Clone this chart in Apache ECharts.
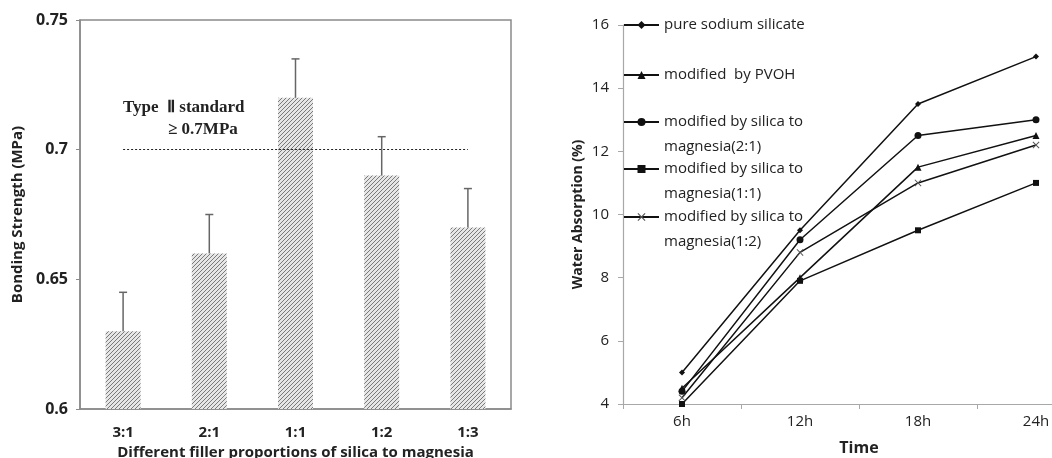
<!DOCTYPE html>
<html>
<head>
<meta charset="utf-8">
<script src="https://cdn.jsdelivr.net/npm/echarts@6/dist/echarts.min.js"></script>
<style>
  html, body { margin: 0; padding: 0; background: #fff; }
  #chart { width: 1052px; height: 458px; }
</style>
</head>
<body>
<div id="chart"></div>
<script>
// 왼쪽: 접착 강도 막대 그래프 데이터
var ratios = ['3:1', '2:1', '1:1', '1:2', '1:3'];
var strength = [0.63, 0.66, 0.72, 0.69, 0.67];
var strengthErr = [0.015, 0.015, 0.015, 0.015, 0.015];
var strengthTicks = [0.6, 0.65, 0.7, 0.75];
var standardValue = 0.7;

// 오른쪽: 흡수율 꺾은선 그래프 데이터
var times = ['6h', '12h', '18h', '24h'];
var pureSilicate = [5.0, 9.5, 13.5, 15.0];
var pvoh = [4.5, 8.0, 11.5, 12.5];
var silica21 = [4.4, 9.2, 12.5, 13.0];
var silica11 = [4.0, 7.9, 9.5, 11.0];
var silica12 = [4.2, 8.8, 11.0, 12.2];
var seriesNames = [
  'pure sodium silicate',
  'modified  by PVOH',
  'modified by silica to magnesia(2:1)',
  'modified by silica to magnesia(1:1)',
  'modified by silica to magnesia(1:2)'
];
var legendLabels = [
  'pure sodium silicate',
  'modified  by PVOH',
  '\nmodified by silica to\nmagnesia(2:1)',
  '\nmodified by silica to\nmagnesia(1:1)',
  '\nmodified by silica to\nmagnesia(1:2)'
];

// 빗금 패턴 만들기
var hatch = document.createElement('canvas');
hatch.width = 4;
hatch.height = 4;
var ctx = hatch.getContext('2d');
ctx.fillStyle = '#e6e6e6';
ctx.fillRect(0, 0, 4, 4);
ctx.strokeStyle = '#7a7a7a';
ctx.lineWidth = 1;
ctx.beginPath();
ctx.moveTo(0, 4); ctx.lineTo(4, 0);
ctx.moveTo(-1, 1); ctx.lineTo(1, -1);
ctx.moveTo(3, 5); ctx.lineTo(5, 3);
ctx.stroke();

var chart = echarts.init(document.getElementById('chart'));

var sansBold = { fontFamily: 'Open Sans', fontWeight: 'bold', color: '#222' };

var errData = strength.map(function (v, i) {
  return [i, v, +(v + strengthErr[i]).toFixed(3)];
});

var symbols = [
  'diamond',
  'triangle',
  'circle',
  'rect',
  'path://M0,1L1,0L5,4L9,0L10,1L6,5L10,9L9,10L5,6L1,10L0,9L4,5Z'
];
var symbolSizes = [6, 7, 7, 6, 7];
var lineData = [pureSilicate, pvoh, silica21, silica11, silica12];
var legendIconY = [25, 75, 122, 169, 217];

var lineSeries = lineData.map(function (d, i) {
  return {
    name: seriesNames[i],
    type: 'line',
    xAxisIndex: 1,
    yAxisIndex: 1,
    data: d,
    symbol: symbols[i],
    symbolSize: symbolSizes[i],
    showAllSymbol: true,
    lineStyle: { color: '#111', width: 1.5 },
    itemStyle: { color: i === 4 ? '#555' : '#111' },
    emphasis: { disabled: true }
  };
});

var legends = seriesNames.map(function (n, i) {
  var lines = legendLabels[i].split('\n').length;
  return {
    data: [n],
    left: 623,
    top: legendIconY[i] - lines * 25 / 2,
    padding: 0,
    itemWidth: 35,
    itemHeight: 10,
    itemGap: 0,
    formatter: function () { return legendLabels[i]; },
    textStyle: { fontFamily: 'Open Sans', fontSize: 15, color: '#222', lineHeight: 25 },
    selectedMode: false
  };
});

var option = {
  animation: false,
  legend: legends,
  grid: [
    { left: 80, top: 20, width: 431, height: 389, show: true, borderColor: '#8a8a8a', borderWidth: 1.5, outerBoundsMode: 'none' },
    { left: 623, top: 25, width: 472, height: 379, outerBoundsMode: 'none' }
  ],
  xAxis: [
    {
      type: 'category',
      gridIndex: 0,
      data: ratios,
      axisLine: { lineStyle: { color: '#8a8a8a', width: 1.5 } },
      axisTick: { show: false },
      axisLabel: Object.assign({ fontSize: 15, margin: 16 }, sansBold),
      name: 'Different filler proportions of silica to magnesia',
      nameLocation: 'middle',
      nameGap: 33,
      nameTextStyle: Object.assign({ fontSize: 15 }, sansBold)
    },
    {
      type: 'category',
      gridIndex: 1,
      data: times,
      axisLine: { lineStyle: { color: '#a8a8a8', width: 1.2 } },
      axisTick: { show: true, length: 5, lineStyle: { color: '#a8a8a8' } },
      axisLabel: { fontFamily: 'Open Sans', fontSize: 15, color: '#222', margin: 10 },
      name: 'Time',
      nameLocation: 'middle',
      nameGap: 36,
      nameTextStyle: Object.assign({ fontSize: 16 }, sansBold)
    }
  ],
  yAxis: [
    {
      type: 'value',
      gridIndex: 0,
      min: strengthTicks[0],
      max: strengthTicks[strengthTicks.length - 1],
      interval: 0.05,
      splitLine: { show: false },
      axisLine: { show: true, lineStyle: { color: '#8a8a8a', width: 1.5 } },
      axisTick: { show: true, length: 4, lineStyle: { color: '#8a8a8a' } },
      axisLabel: Object.assign({ fontSize: 16, margin: 12 }, sansBold),
      name: 'Bonding Strength (MPa)',
      nameLocation: 'middle',
      nameGap: 55,
      nameTextStyle: Object.assign({ fontSize: 15 }, sansBold)
    },
    {
      type: 'value',
      gridIndex: 1,
      min: 4,
      max: 16,
      interval: 2,
      splitLine: { show: false },
      axisLine: { show: true, lineStyle: { color: '#a8a8a8', width: 1.2 } },
      axisTick: { show: true, length: 5, lineStyle: { color: '#a8a8a8' } },
      axisLabel: { fontFamily: 'Open Sans', fontSize: 15, color: '#222', margin: 14 },
      name: 'Water Absorption (%)',
      nameLocation: 'middle',
      nameGap: 38,
      nameTextStyle: Object.assign({ fontSize: 14 }, sansBold)
    }
  ],
  graphic: [
    {
      type: 'text',
      left: 123,
      top: 99,
      style: { text: 'Type  Ⅱ standard', fontFamily: 'Liberation Serif', fontWeight: 'bold', fontSize: 17, fill: '#222' }
    },
    {
      type: 'text',
      left: 168,
      top: 121,
      style: { text: '≥ 0.7MPa', fontFamily: 'Liberation Serif', fontWeight: 'bold', fontSize: 17, fill: '#222' }
    }
  ],
  series: [
    {
      type: 'bar',
      xAxisIndex: 0,
      yAxisIndex: 0,
      data: strength,
      barWidth: 35,
      itemStyle: { color: { image: hatch, repeat: 'repeat' } },
      emphasis: { disabled: true },
      markLine: {
        silent: true,
        symbol: 'none',
        label: { show: false },
        lineStyle: { color: '#222', type: [2, 2], width: 1.2 },
        data: [[
          { coord: [ratios[0], standardValue] },
          { coord: [ratios[ratios.length - 1], standardValue] }
        ]]
      }
    },
    {
      type: 'custom',
      xAxisIndex: 0,
      yAxisIndex: 0,
      data: errData,
      z: 5,
      renderItem: function (params, api) {
        var lo = api.coord([api.value(0), api.value(1)]);
        var hi = api.coord([api.value(0), api.value(2)]);
        var st = { stroke: '#666', lineWidth: 1.5 };
        return {
          type: 'group',
          children: [
            { type: 'line', shape: { x1: lo[0], y1: lo[1], x2: hi[0], y2: hi[1] }, style: st },
            { type: 'line', shape: { x1: hi[0] - 4, y1: hi[1], x2: hi[0] + 4, y2: hi[1] }, style: st }
          ]
        };
      }
    }
  ].concat(lineSeries)
};

chart.setOption(option);
</script>
</body>
</html>
